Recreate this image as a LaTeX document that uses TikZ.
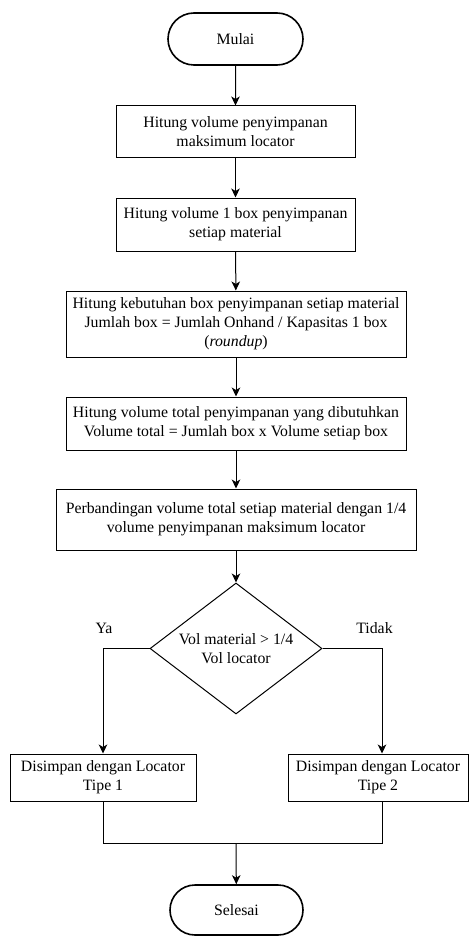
\documentclass[tikz,border=0pt]{standalone}
\usepackage{fontspec}
\setmainfont{Liberation Serif}
\usetikzlibrary{shapes.geometric,shapes.misc,arrows.meta}
\begin{document}
\begin{tikzpicture}[x=1pt,y=-1pt,
  every node/.style={font=\fontsize{15.8}{19}\selectfont, align=center, inner sep=0pt},
  proc/.style={draw, line width=1pt, rectangle},
  term/.style={draw, line width=1.6pt, rounded rectangle},
  dec/.style={draw, line width=1pt, diamond, aspect=1.31},
  arr/.style={line width=1pt, -{Stealth[length=9pt,width=8.5pt,inset=2.5pt]}},
  conn/.style={line width=1pt}]
\useasboundingbox (0,0) rectangle (470,936);
\node[term, minimum width=135pt, minimum height=52pt] (start) at (235.5,39) {Mulai};
\node[proc, minimum width=239pt, minimum height=52pt] (b1) at (235.5,132) {Hitung volume penyimpanan\\maksimum locator};
\node[proc, minimum width=239pt, minimum height=53pt] (b2) at (235.5,224.5) {Hitung volume 1 box penyimpanan\\setiap material};
\node[proc, minimum width=340pt, minimum height=66pt] (b3) at (236,324) {Hitung kebutuhan box penyimpanan setiap material\\Jumlah box = Jumlah Onhand / Kapasitas 1 box\\(\textit{roundup})};
\node[proc, minimum width=340pt, minimum height=53pt] (b4) at (236,423.5) {Hitung volume total penyimpanan yang dibutuhkan\\Volume total = Jumlah box x Volume setiap box};
\node[proc, minimum width=360pt, minimum height=61pt] (b5) at (236,519.5) {Perbandingan volume total setiap material dengan 1/4\\volume penyimpanan maksimum locator};
\node[dec, minimum width=172pt, minimum height=131pt] (d) at (236,648.5) {Vol material > 1/4\\Vol locator};
\node (ya) at (104,628) {Ya};
\node (tidak) at (374.5,628) {Tidak};
\node[proc, minimum width=186pt, minimum height=47pt] (b6) at (103,777.5) {Disimpan dengan Locator\\Tipe 1};
\node[proc, minimum width=180pt, minimum height=47pt] (b7) at (378,777.5) {Disimpan dengan Locator\\Tipe 2};
\node[term, minimum width=133pt, minimum height=50pt] (end) at (236.5,910) {Selesai};
\coordinate (m) at (236,843);
\draw[arr] (start) -- (b1);
\draw[arr] (b1) -- (b2);
\draw[arr] (b2) -- (b3);
\draw[arr] (b3) -- (b4);
\draw[arr] (b4) -- (b5);
\draw[arr] (b5) -- (d);
\draw[arr] (d.west) -| (b6.north);
\draw[arr] (d.east) -| ([xshift=4pt]b7.north);
\draw[conn] (b6.south) |- (m) -| ([xshift=4pt]b7.south);
\draw[arr] (m) -- (end);
\end{tikzpicture}
\end{document}
